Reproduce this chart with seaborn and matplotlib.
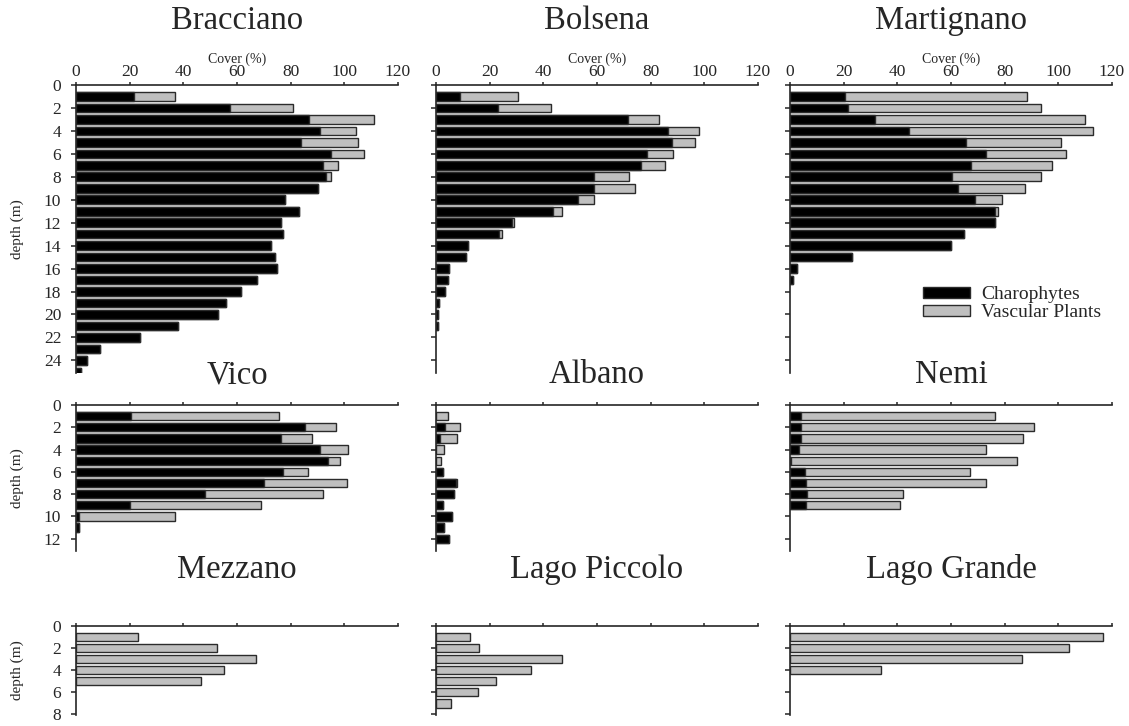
import pandas as pd
import matplotlib
matplotlib.use("Agg")
import matplotlib.pyplot as plt
from matplotlib.patches import Patch
import seaborn as sns

sns.set_style("ticks")
plt.rcParams['font.family'] = ['Liberation Serif', 'DejaVu Serif']

CHARA_COLOR = "black"
VASC_COLOR = "#bfbfbf"
EDGE = "#2b2b2b"

# ---- data: cover (%) per 1 m depth step ----
bracciano_depth = list(range(1, 26))
bracciano_chara = [21.5, 57.5, 87, 91, 84, 95, 92, 93, 90, 78, 83, 76.5, 77,
                   72.5, 74, 75, 67.5, 61.5, 56, 53, 38, 24, 9, 4, 2]
bracciano_vasc = [15.5, 23.5, 24, 13.5, 21, 12.5, 5.5, 2, 0, 0, 0, 0, 0,
                  0, 0, 0, 0, 0, 0, 0, 0, 0, 0, 0, 0]

bolsena_depth = list(range(1, 22))
bolsena_chara = [9, 23, 71.5, 86.5, 88, 78.5, 76.5, 59, 59, 53, 43.5, 28.5,
                 23.5, 12, 11, 5, 4.5, 3.5, 1, 0.6, 0.6]
bolsena_vasc = [21.5, 20, 11.5, 11.5, 8.5, 10, 9, 13, 15, 6, 3.5, 0.7,
                1, 0, 0, 0, 0, 0, 0, 0, 0]

martignano_depth = list(range(1, 18))
martignano_chara = [20.5, 21.5, 31.5, 44.5, 65.5, 73, 67.5, 60.5, 62.5, 69,
                    76.5, 76.5, 65, 60, 23, 2.5, 1]
martignano_vasc = [68, 72, 78.5, 68.5, 35.5, 30, 30, 33, 25, 10,
                   1, 0, 0, 0, 0, 0, 0]

vico_depth = list(range(1, 12))
vico_chara = [20.5, 85.5, 76.5, 91, 94, 77, 70, 48, 20, 1, 1]
vico_vasc = [55, 11.5, 11.5, 10.5, 4.5, 9.5, 31, 44, 49, 36, 0]

albano_depth = list(range(1, 13))
albano_chara = [0, 3.5, 1.5, 0, 0, 2.7, 7.5, 6.7, 2.7, 5.8, 3, 5]
albano_vasc = [4.3, 5.3, 6.2, 2.9, 2, 0, 0.5, 0, 0, 0, 0, 0]

nemi_depth = list(range(1, 10))
nemi_chara = [4, 4, 4, 3.5, 0.5, 5.5, 6, 6.5, 6]
nemi_vasc = [72.5, 87, 83, 69.5, 84, 61.5, 67, 35.5, 35]

mezzano_depth = list(range(1, 6))
mezzano_chara = [0, 0, 0, 0, 0]
mezzano_vasc = [23, 52.5, 67, 55, 46.5]

piccolo_depth = list(range(1, 8))
piccolo_chara = [0, 0, 0, 0, 0, 0, 0]
piccolo_vasc = [12.5, 16, 47, 35.5, 22.5, 15.5, 5.5]

grande_depth = list(range(1, 5))
grande_chara = [0, 0, 0, 0]
grande_vasc = [116.5, 104, 86.5, 34]

panels = [
    ("Bracciano", bracciano_depth, bracciano_chara, bracciano_vasc),
    ("Bolsena", bolsena_depth, bolsena_chara, bolsena_vasc),
    ("Martignano", martignano_depth, martignano_chara, martignano_vasc),
    ("Vico", vico_depth, vico_chara, vico_vasc),
    ("Albano", albano_depth, albano_chara, albano_vasc),
    ("Nemi", nemi_depth, nemi_chara, nemi_vasc),
    ("Mezzano", mezzano_depth, mezzano_chara, mezzano_vasc),
    ("Lago Piccolo", piccolo_depth, piccolo_chara, piccolo_vasc),
    ("Lago Grande", grande_depth, grande_chara, grande_vasc),
]

# ---- layout (pixels of a 1129x726 canvas) ----
W, H = 1129, 726
col_left = [76, 436, 790]
col_w = 322
# (axis top px, axis bottom px, max depth, yticks, title baseline px)
rows = [(85, 373, 25.1, range(0, 25, 2), 29),
        (405, 551, 13.1, range(0, 13, 2), 383),
        (626, 715, 8.05, range(0, 9, 2), 578)]

fig = plt.figure(figsize=(W / 100, H / 100), dpi=100)

for i, (name, depth, chara, vasc) in enumerate(panels):
    r, c = divmod(i, 3)
    top, bot, ymax, yt, tbase = rows[r]
    ax = fig.add_axes([col_left[c] / W, (H - bot) / H, col_w / W, (bot - top) / H])

    df = pd.DataFrame({"depth": depth, "chara": chara, "vasc": vasc})
    df["total"] = df["chara"] + df["vasc"]
    sns.barplot(data=df, x="total", y="depth", orient="h", native_scale=True,
                color=VASC_COLOR, saturation=1, width=0.75,
                edgecolor=EDGE, linewidth=1, ax=ax)
    sns.barplot(data=df[df["chara"] > 0], x="chara", y="depth", orient="h",
                native_scale=True, color=CHARA_COLOR, saturation=1, width=0.75,
                edgecolor=EDGE, linewidth=1, ax=ax)

    ax.set_xlim(0, 120)
    ax.set_ylim(ymax, 0)
    ax.set_xticks(range(0, 121, 20))
    ax.set_yticks(list(yt))
    ax.xaxis.tick_top()
    ax.xaxis.set_label_position("top")
    ax.set_xlabel("")
    ax.set_ylabel("")
    for s in ["right", "bottom"]:
        ax.spines[s].set_visible(False)
    for s in ["left", "top"]:
        ax.spines[s].set_linewidth(1.2)
    ax.tick_params(axis="x", direction="out", length=2.5, width=1.1,
                   labelsize=12.5, pad=1, labeltop=(r == 0), labelbottom=False)
    ax.tick_params(axis="y", direction="out", length=3.6, width=1.1,
                   labelsize=12.5, pad=7, labelleft=(c == 0))
    if r == 0:
        ax.set_xlabel("Cover (%)", fontsize=10, labelpad=1)
    if c == 0:
        ax.set_ylabel("depth (m)", fontsize=11)
        ax.yaxis.set_label_coords(-52 / col_w, 0.5)

    fig.text((col_left[c] + col_w / 2) / W, (H - tbase) / H, name,
             ha="center", va="baseline", fontsize=23.5)

    if name == "Martignano":
        handles = [Patch(facecolor=CHARA_COLOR, edgecolor=EDGE, label="Charophytes"),
                   Patch(facecolor=VASC_COLOR, edgecolor=EDGE, label="Vascular Plants")]
        ax.legend(handles=handles, loc="center left", bbox_to_anchor=(0.36, 0.24),
                  frameon=False, fontsize=14, handlelength=2.4,
                  handleheight=0.55, labelspacing=0.05, handletextpad=0.55)

fig.savefig("out.png", dpi=100)
